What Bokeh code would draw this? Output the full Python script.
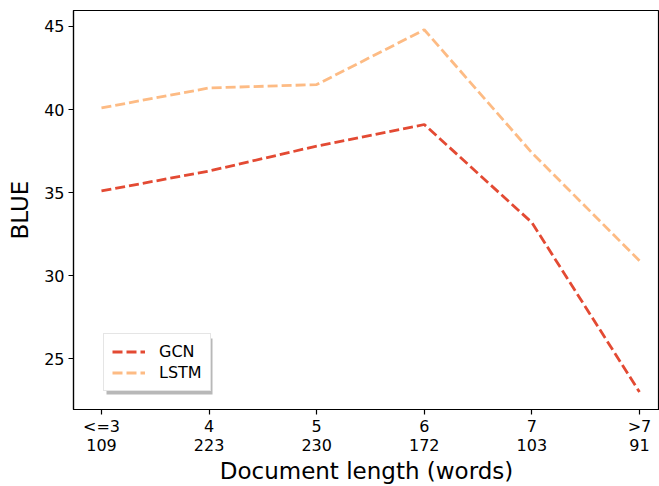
from bokeh.plotting import figure
from bokeh.models import Range1d, FixedTicker, Legend, LegendItem, BoxAnnotation
from bokeh.embed import file_html
from bokeh.resources import INLINE

x_labels = ["<=3\n109", "4\n223", "5\n230", "6\n172", "7\n103", ">7\n91"]
gcn = [35.1, 36.3, 37.8, 39.1, 33.2, 23.0]
lstm = [40.1, 41.3, 41.5, 44.8, 37.4, 30.9]
xs = list(range(len(x_labels)))

FONT = "DejaVu Sans"

p = figure(width=659, height=486, output_backend="svg", toolbar_location=None,
           x_range=Range1d(-0.26, 5.186), y_range=Range1d(21.95, 45.96),
           min_border_left=73, min_border_top=10, min_border_right=0, min_border_bottom=75)
p.grid.visible = False
p.outline_line_color = "black"
p.outline_line_width = 1.2

r1 = p.line(xs, gcn, line_color="#e34a33", line_width=2.8, line_dash="10 4")
r2 = p.line(xs, lstm, line_color="#fdbb84", line_width=2.8, line_dash="10 4")

for ax in (p.xaxis[0], p.yaxis[0]):
    ax.major_label_text_font = FONT
    ax.major_label_text_font_size = "16px"
    ax.major_label_text_color = "black"
    ax.axis_label_text_font = FONT
    ax.axis_label_text_font_size = "23px"
    ax.axis_label_text_font_style = "normal"
    ax.axis_label_text_color = "black"
    ax.minor_tick_line_color = None
    ax.major_tick_in = 0
    ax.major_tick_out = 5
    ax.major_tick_line_width = 1.2
    ax.axis_line_width = 1.2

p.xaxis.ticker = FixedTicker(ticks=xs)
p.xaxis.major_label_overrides = {i: lab for i, lab in enumerate(x_labels)}
p.xaxis.major_label_standoff = 2
p.xaxis.major_label_text_line_height = 1.0
p.xaxis.axis_label = "Document length (words)"
p.xaxis.axis_label_standoff = 0
p.xaxis.axis_label_text_line_height = 0.85

p.yaxis.ticker = FixedTicker(ticks=[25, 30, 35, 40, 45])
p.yaxis.axis_label = "BLUE"
p.yaxis.major_label_standoff = 4
p.yaxis.axis_label_standoff = 8

shadow = BoxAnnotation(left=33, right=139, bottom=15, top=71,
                       left_units="screen", right_units="screen",
                       bottom_units="screen", top_units="screen",
                       fill_color="#888888", fill_alpha=0.6, line_color=None)
p.add_layout(shadow)

legend = Legend(items=[LegendItem(label="GCN", renderers=[r1]),
                       LegendItem(label="LSTM", renderers=[r2])],
                location=(30, 18), padding=8, margin=0, spacing=2,
                glyph_width=33, glyph_height=19, label_height=19, label_standoff=14,
                label_text_font=FONT, label_text_font_size="16px", label_text_color="black",
                border_line_color="#cccccc", border_line_width=1,
                background_fill_color="white", background_fill_alpha=1.0)
p.add_layout(legend)

open("out.html", "w").write(file_html(p, INLINE))
